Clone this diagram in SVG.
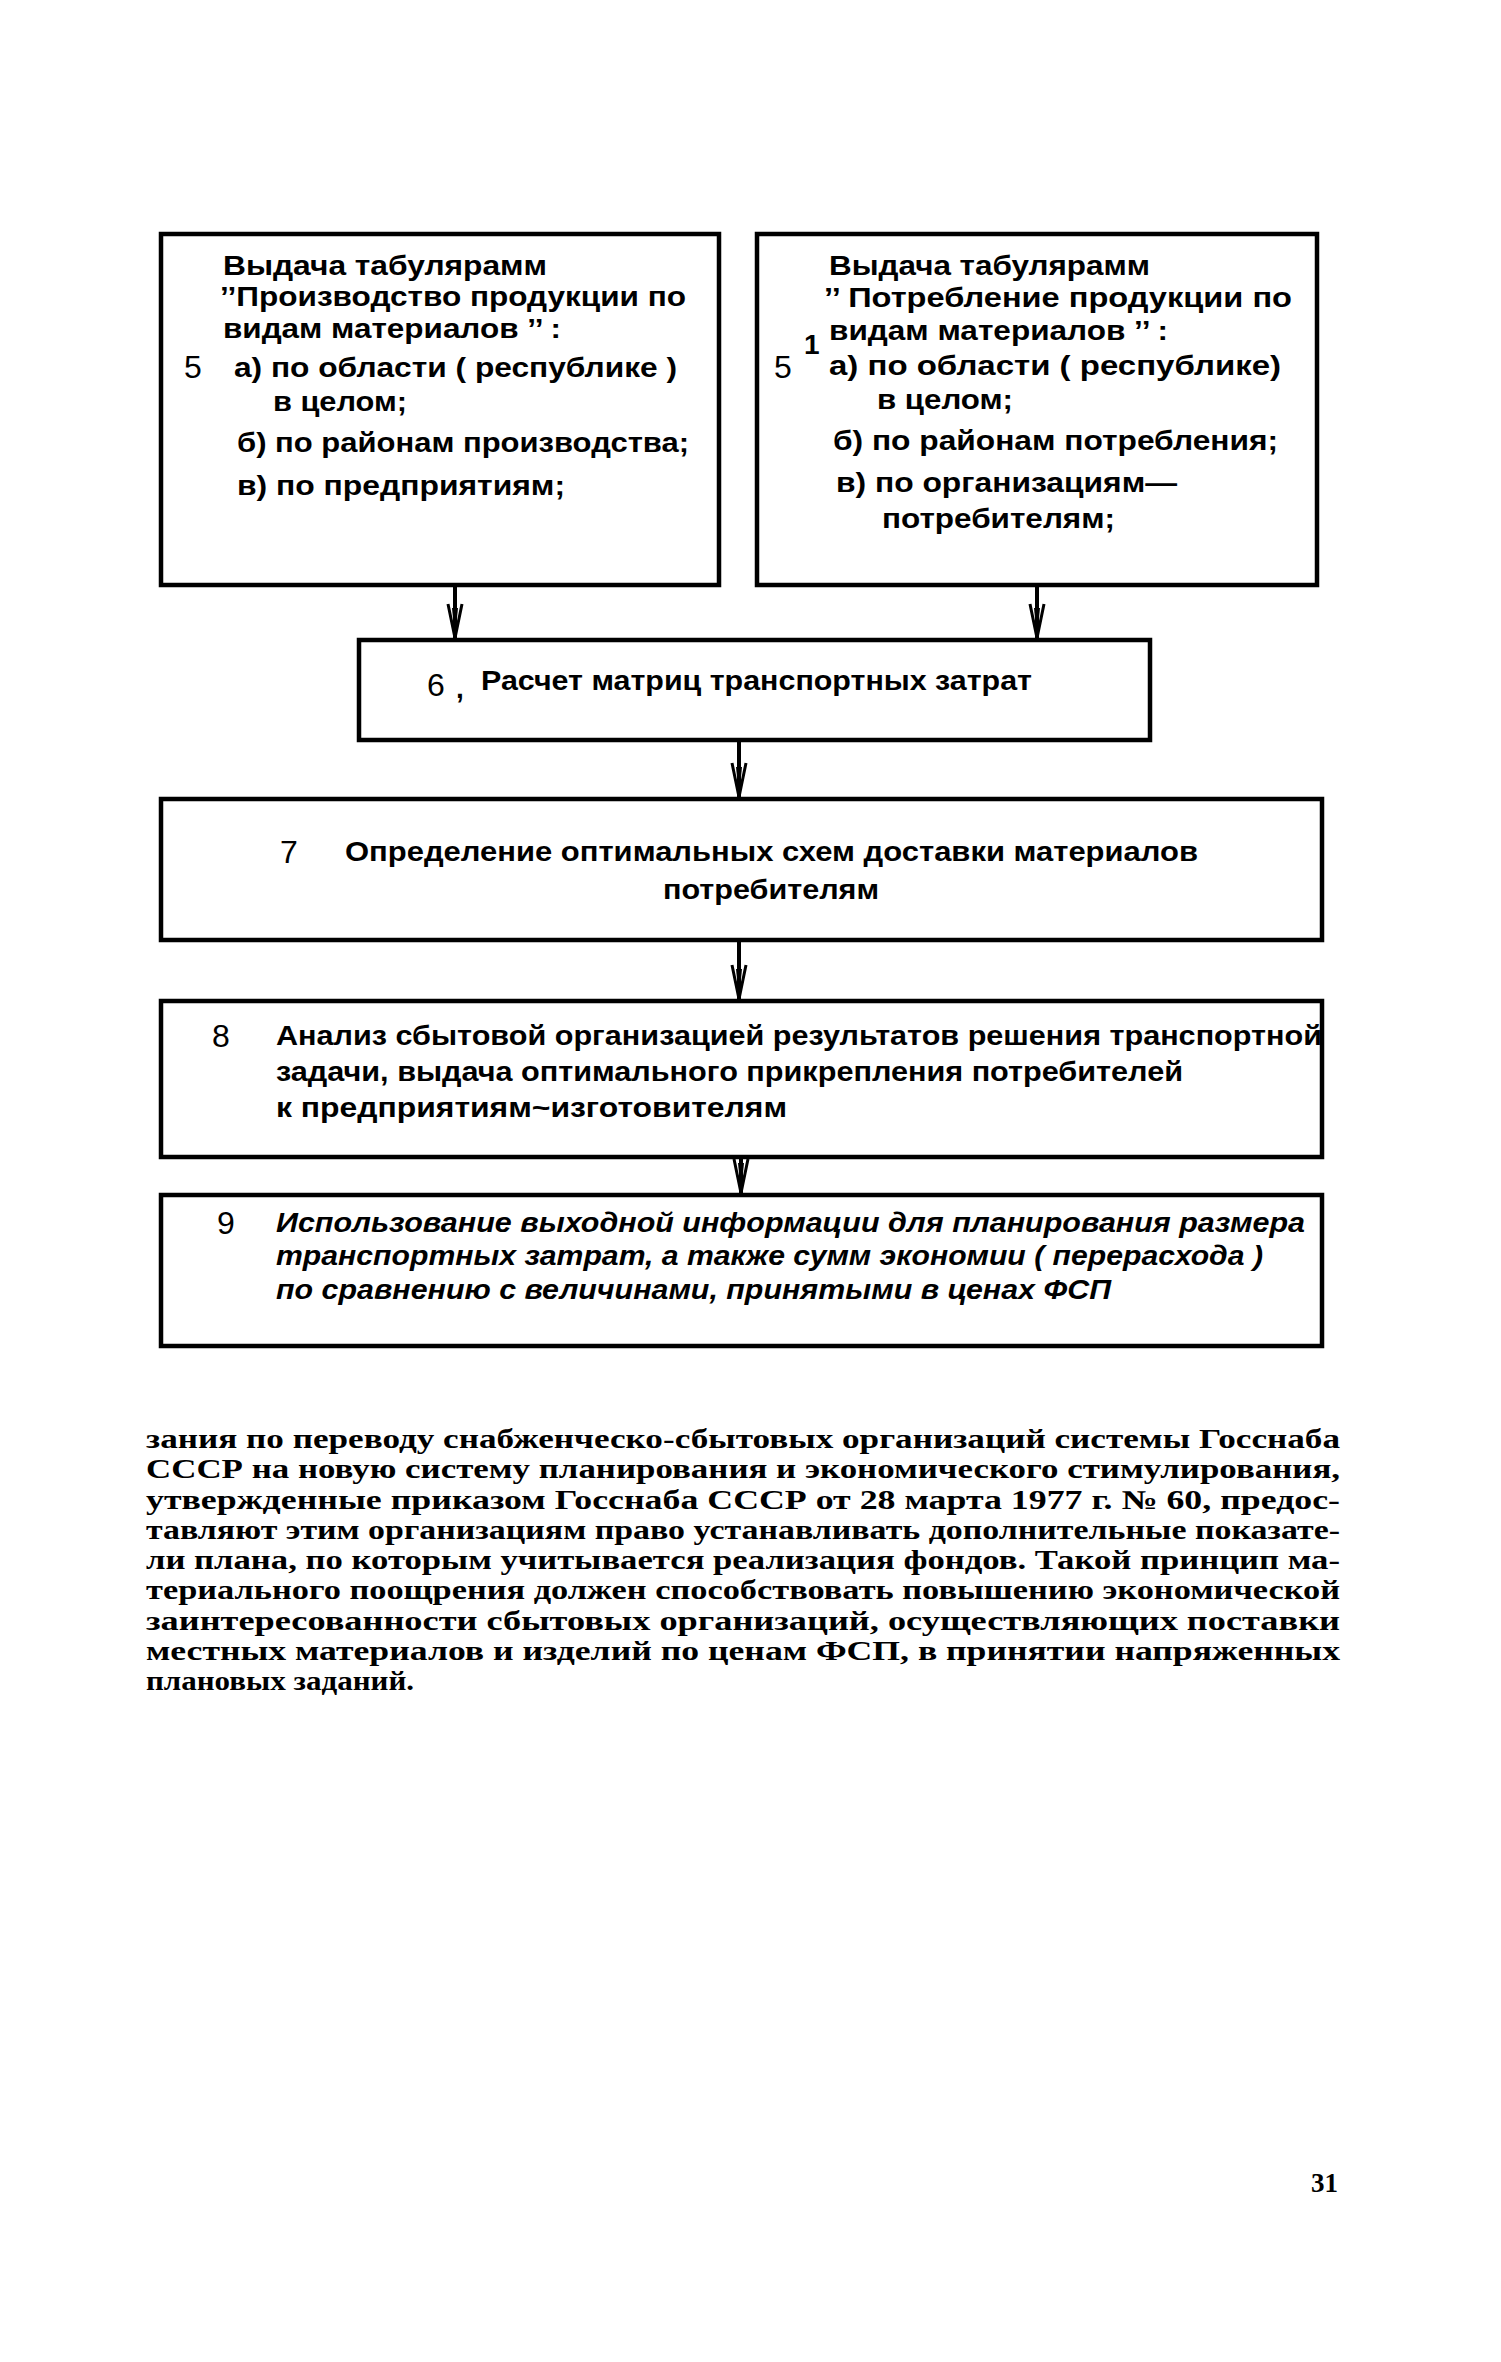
<svg xmlns="http://www.w3.org/2000/svg" width="1501" height="2362" viewBox="0 0 1501 2362">
<style>
.box{fill:none;stroke:#000;stroke-width:4.5}
.t{font-family:"Liberation Sans",Arial,sans-serif;font-weight:bold;font-size:28px;fill:#000}
.tc{font-family:"Liberation Sans",Arial,sans-serif;font-weight:bold;font-size:28px;fill:#000}
.ti{font-family:"Liberation Sans",Arial,sans-serif;font-weight:bold;font-style:italic;font-size:28px;fill:#000}
.num{font-family:"Liberation Sans",Arial,sans-serif;font-size:32px;fill:#000}
.p{font-family:"Liberation Serif","Times New Roman",serif;font-weight:bold;font-size:27px;fill:#000}
.conn{stroke:#000;stroke-width:4;fill:none}
</style>
<defs>
<marker id="ah" markerUnits="userSpaceOnUse" viewBox="-36 -10 38 20" refX="0" refY="0" markerWidth="38" markerHeight="20" orient="auto">
<path d="M-34,-7 L0,0 L-34,7" fill="none" stroke="#000" stroke-width="3"/>
<path d="M-30,-3 L0,0 L-30,3 Z" fill="#000"/>
</marker>
</defs>
<rect width="1501" height="2362" fill="#fff"/>

<g id="connectors">
<line class="conn" x1="455" y1="587" x2="455" y2="638" marker-end="url(#ah)"/>
<line class="conn" x1="1037" y1="587" x2="1037" y2="638" marker-end="url(#ah)"/>
<line class="conn" x1="739" y1="742" x2="739" y2="797" marker-end="url(#ah)"/>
<line class="conn" x1="739" y1="942" x2="739" y2="999" marker-end="url(#ah)"/>
<line class="conn" x1="741" y1="1159" x2="741" y2="1193" marker-end="url(#ah)"/>
</g>

<g id="node5">
<rect class="box" x="161" y="234" width="558" height="351"/>
<text class="t" x="223" y="275" textLength="324" lengthAdjust="spacingAndGlyphs">Выдача табулярамм</text>
<text class="t" x="220" y="306" textLength="466" lengthAdjust="spacingAndGlyphs">’’Производство продукции по</text>
<text class="t" x="223" y="338" textLength="338" lengthAdjust="spacingAndGlyphs">видам материалов ’’ :</text>
<text class="num" x="184" y="378">5</text>
<text class="t" x="234" y="377" textLength="443" lengthAdjust="spacingAndGlyphs">а) по области ( республике )</text>
<text class="t" x="273" y="411" textLength="134" lengthAdjust="spacingAndGlyphs">в целом;</text>
<text class="t" x="237" y="452" textLength="452" lengthAdjust="spacingAndGlyphs">б) по районам производства;</text>
<text class="t" x="237" y="495" textLength="328" lengthAdjust="spacingAndGlyphs">в) по предприятиям;</text>
</g>

<g id="node5-1">
<rect class="box" x="757" y="234" width="560" height="351"/>
<text class="t" x="829" y="275" textLength="321" lengthAdjust="spacingAndGlyphs">Выдача табулярамм</text>
<text class="t" x="824" y="307" textLength="468" lengthAdjust="spacingAndGlyphs">’’ Потребление продукции  по</text>
<text class="t" x="829" y="340" textLength="339" lengthAdjust="spacingAndGlyphs">видам материалов ’’ :</text>
<text class="num" x="774" y="378">5</text>
<text class="t" x="804" y="354" font-size="24">1</text>
<text class="t" x="829" y="375" textLength="452" lengthAdjust="spacingAndGlyphs">а) по области  ( республике)</text>
<text class="t" x="877" y="409" textLength="136" lengthAdjust="spacingAndGlyphs">в целом;</text>
<text class="t" x="833" y="450" textLength="445" lengthAdjust="spacingAndGlyphs">б) по районам потребления;</text>
<text class="t" x="836" y="492" textLength="341" lengthAdjust="spacingAndGlyphs">в) по организациям—</text>
<text class="t" x="882" y="528" textLength="233" lengthAdjust="spacingAndGlyphs">потребителям;</text>
</g>

<g id="node6">
<rect class="box" x="359" y="640" width="791" height="100"/>
<text class="num" x="427" y="696" font-size="36">6</text>
<text class="t" x="456" y="698">,</text>
<text class="t" x="481" y="690" textLength="551" lengthAdjust="spacingAndGlyphs">Расчет матриц транспортных затрат</text>
</g>

<g id="node7">
<rect class="box" x="161" y="799" width="1161" height="141"/>
<text class="num" x="280" y="863">7</text>
<text class="tc" x="345" y="861" textLength="853" lengthAdjust="spacingAndGlyphs">Определение оптимальных  схем доставки материалов</text>
<text class="tc" x="663" y="899" textLength="216" lengthAdjust="spacingAndGlyphs">потребителям</text>
</g>

<g id="node8">
<rect class="box" x="161" y="1001" width="1161" height="156"/>
<text class="num" x="212" y="1047">8</text>
<text class="tc" x="276" y="1045" textLength="1046" lengthAdjust="spacingAndGlyphs">Анализ сбытовой организацией результатов решения транспортной</text>
<text class="tc" x="276" y="1081" textLength="907" lengthAdjust="spacingAndGlyphs">задачи, выдача оптимального прикрепления  потребителей</text>
<text class="tc" x="276" y="1117" textLength="511" lengthAdjust="spacingAndGlyphs">к предприятиям~изготовителям</text>
</g>

<g id="node9">
<rect class="box" x="161" y="1195" width="1161" height="151"/>
<text class="num" x="217" y="1234">9</text>
<text class="ti" x="276" y="1232" textLength="1029" lengthAdjust="spacingAndGlyphs">Использование выходной информации для планирования размера</text>
<text class="ti" x="276" y="1265" textLength="987" lengthAdjust="spacingAndGlyphs">транспортных затрат, а также  сумм экономии  ( перерасхода )</text>
<text class="ti" x="276" y="1299" textLength="835" lengthAdjust="spacingAndGlyphs">по сравнению с величинами, принятыми в ценах ФСП</text>
</g>

<g id="paragraph">
<text class="p" x="146" y="1448" textLength="1194" lengthAdjust="spacingAndGlyphs">зания по переводу снабженческо-сбытовых организаций системы Госснаба</text>
<text class="p" x="146" y="1478" textLength="1194" lengthAdjust="spacingAndGlyphs">СССР на новую систему планирования и экономического стимулирования,</text>
<text class="p" x="146" y="1509" textLength="1194" lengthAdjust="spacingAndGlyphs">утвержденные приказом Госснаба СССР от 28 марта 1977 г. № 60, предос-</text>
<text class="p" x="146" y="1539" textLength="1194" lengthAdjust="spacingAndGlyphs">тавляют этим организациям право устанавливать дополнительные показате-</text>
<text class="p" x="146" y="1569" textLength="1194" lengthAdjust="spacingAndGlyphs">ли плана, по которым учитывается реализация фондов. Такой принцип ма-</text>
<text class="p" x="146" y="1599" textLength="1194" lengthAdjust="spacingAndGlyphs">териального поощрения должен способствовать повышению экономической</text>
<text class="p" x="146" y="1630" textLength="1194" lengthAdjust="spacingAndGlyphs">заинтересованности сбытовых  организаций, осуществляющих поставки</text>
<text class="p" x="146" y="1660" textLength="1194" lengthAdjust="spacingAndGlyphs">местных материалов и изделий по ценам ФСП, в принятии напряженных</text>
<text class="p" x="146" y="1690" textLength="268" lengthAdjust="spacingAndGlyphs">плановых заданий.</text>
</g>

<text class="p" x="1311" y="2192" font-size="32">31</text>
</svg>
